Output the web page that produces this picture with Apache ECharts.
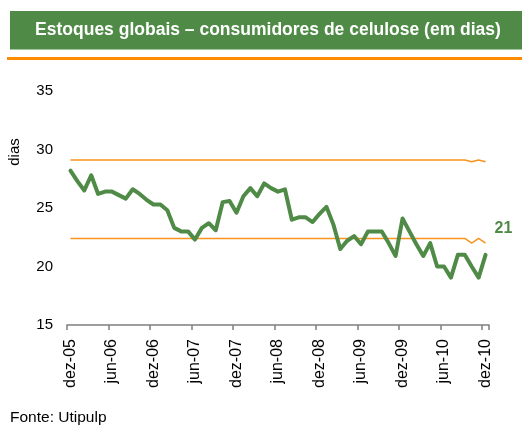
<!DOCTYPE html>
<html>
<head>
<meta charset="utf-8">
<script src="https://cdn.jsdelivr.net/npm/echarts@6/dist/echarts.min.js"></script>
<style>
html,body{margin:0;padding:0;background:#fff;}
#c{width:522px;height:426px;}
</style>
</head>
<body>
<div id="c"></div>
<script>
// Months dez-05 .. dez-10 (61 monthly points)
var months = ['jan','fev','mar','abr','mai','jun','jul','ago','set','out','nov','dez'];
var categories = [];
(function(){
  var y = 5, m = 11;
  for (var i = 0; i < 61; i++) {
    categories.push(months[m] + '-' + (y < 10 ? '0' + y : '' + y));
    m++; if (m > 11) { m = 0; y++; }
  }
})();

var estoques = [
  28.2, 27.3, 26.5, 27.8, 26.2, 26.4, 26.4, 26.1, 25.8, 26.6,
  26.2, 25.7, 25.3, 25.3, 24.8, 23.3, 23.0, 23.0, 22.3, 23.3,
  23.7, 23.1, 25.5, 25.6, 24.6, 26.0, 26.7, 26.0, 27.1, 26.7,
  26.4, 26.6, 24.0, 24.2, 24.2, 23.8, 24.5, 25.1, 23.6, 21.5,
  22.2, 22.6, 21.9, 23.0, 23.0, 23.0, 22.0, 20.9, 24.1, 23.0,
  21.9, 20.9, 22.0, 20.0, 20.0, 19.05, 21.0, 21.0, 20.0, 19.05,
  21.0
];
var upperFlat = 29.1;
var lowerFlat = 22.4;
var upperTail = [29.1, 28.95, 29.1, 28.95];
var lowerTail = [22.4, 22.0, 22.4, 22.0];
var upper = [];
var lower = [];
(function(){
  for (var i = 0; i < 57; i++) { upper.push(upperFlat); lower.push(lowerFlat); }
})();
upper = upper.concat(upperTail);
lower = lower.concat(lowerTail);

var yTicks = [15, 20, 25, 30, 35];
var titleText = 'Estoques globais \u2013 consumidores de celulose (em dias)';
var sourceText = 'Fonte: Utipulp';
var yName = 'dias';

var chart = echarts.init(document.getElementById('c'), null, {renderer: 'canvas'});
var FONT = 'Liberation Sans, Arial, sans-serif';

chart.setOption({
  animation: false,
  backgroundColor: '#fff',
  grid: {left: 67, top: 91, width: 422, height: 234, containLabel: false},
  xAxis: {
    type: 'category',
    data: categories,
    boundaryGap: true,
    axisLine: {show: true, lineStyle: {color: '#7f7f7f', width: 1.5}},
    axisTick: {show: true, interval: 5, length: 5, lineStyle: {color: '#7f7f7f', width: 1.5}},
    axisLabel: {interval: 5, rotate: 90, margin: 14, color: '#000', fontSize: 16, fontFamily: FONT},
    splitLine: {show: false}
  },
  yAxis: {
    type: 'value',
    min: yTicks[0], max: yTicks[yTicks.length - 1], interval: 5,
    axisLine: {show: false},
    axisTick: {show: false},
    splitLine: {show: false},
    axisLabel: {color: '#000', fontSize: 15, fontFamily: FONT, margin: 14}
  },
  series: [
    {type: 'line', data: upper, symbol: 'none', z: 2,
      lineStyle: {color: '#f7941d', width: 1.5}},
    {type: 'line', data: lower, symbol: 'none', z: 2,
      lineStyle: {color: '#f7941d', width: 1.5}},
    {type: 'line', data: estoques, symbol: 'none', z: 3,
      lineStyle: {color: '#4f8b46', width: 4, join: 'round', cap: 'round'},
      endLabel: {show: true, distance: 0, offset: [9, -26],
        formatter: function(p){ return Math.round(p.value); },
        color: '#4f8b46', fontWeight: 'bold', fontSize: 16, fontFamily: FONT}}
  ],
  graphic: [
    {type: 'rect', shape: {x: 10, y: 11, width: 512, height: 38.5}, style: {fill: '#4f8b46'}},
    {type: 'text', x: 268, y: 30.5, style: {text: titleText, fill: '#fff', font: 'bold 17.5px ' + FONT, align: 'center', verticalAlign: 'middle'}},
    {type: 'rect', shape: {x: 7, y: 57, width: 515, height: 3}, style: {fill: '#ff8c00'}},
    {type: 'text', x: 15, y: 152, rotation: Math.PI / 2, style: {text: yName, fill: '#000', font: '15px ' + FONT, align: 'center', verticalAlign: 'middle'}},
    {type: 'text', x: 10, y: 418, style: {text: sourceText, fill: '#000', font: '15.5px ' + FONT, align: 'left', verticalAlign: 'middle'}}
  ]
});
</script>
</body>
</html>
